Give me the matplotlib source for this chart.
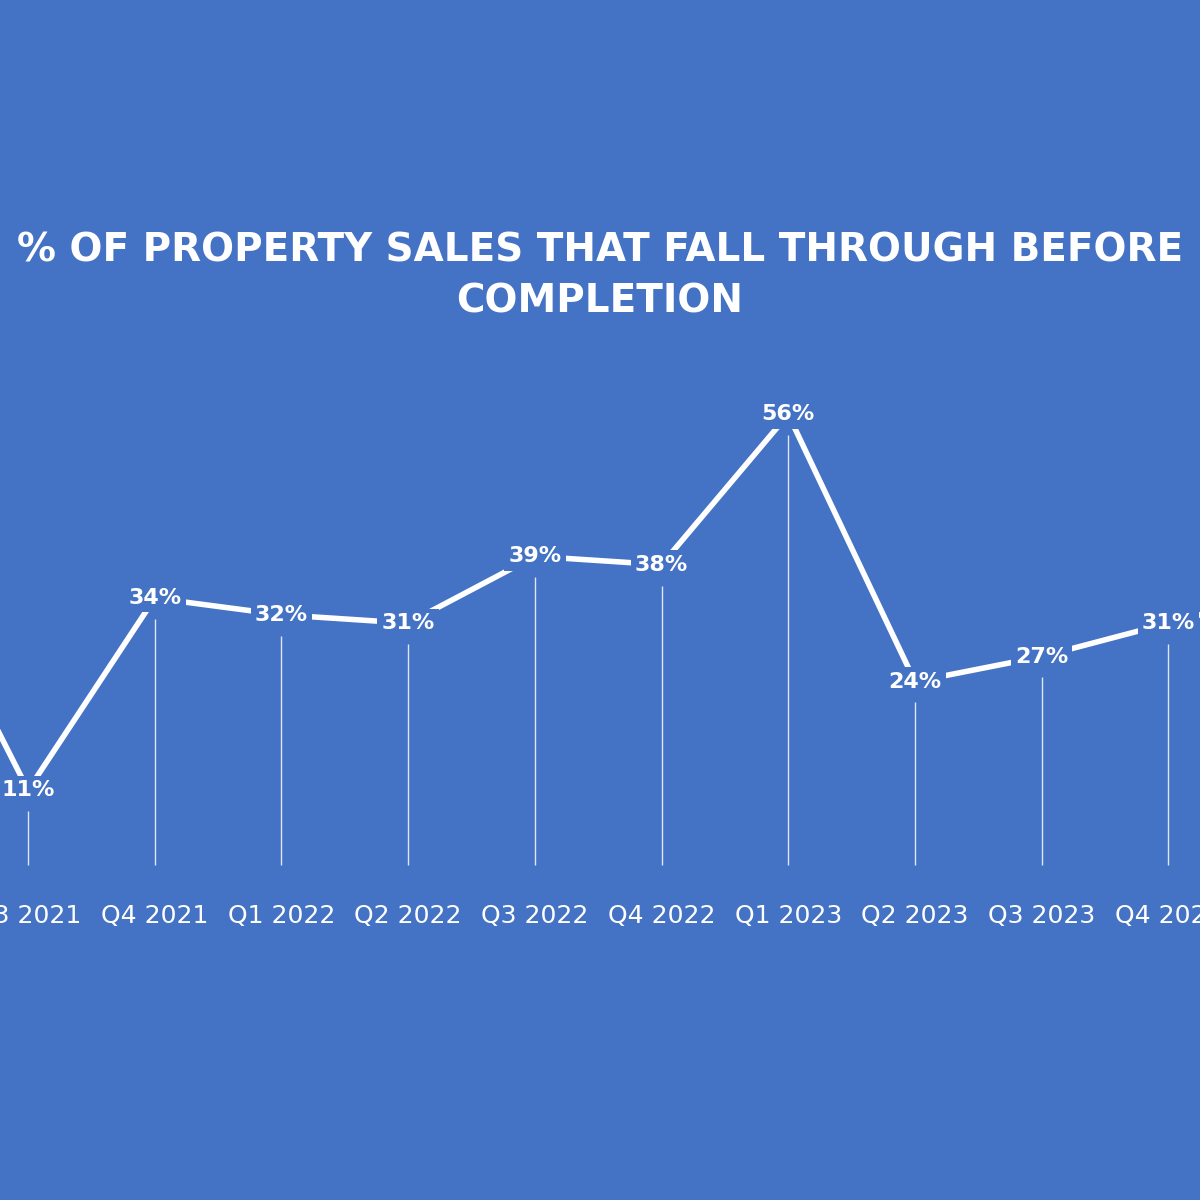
import matplotlib.pyplot as plt

quarters = ["Q2 2021", "Q3 2021", "Q4 2021", "Q1 2022", "Q2 2022", "Q3 2022",
            "Q4 2022", "Q1 2023", "Q2 2023", "Q3 2023", "Q4 2023", "Q1 2024"]
fall_through = [41, 11, 34, 32, 31, 39, 38, 56, 24, 27, 31, 35]

bg = "#4472C4"
fig = plt.figure(figsize=(12, 12), dpi=100, facecolor=bg)
ax = fig.add_axes([-0.135, 0.265, 1.267, 0.4175], facecolor=bg)

x = list(range(len(quarters)))
ax.plot(x, fall_through, color="white", lw=4, zorder=3)
ax.vlines(x, 2, [v - 2.5 for v in fall_through], color="#dfe6f5", lw=1, zorder=1)
for xi, v in zip(x, fall_through):
    ax.text(xi, v, f"{v}%", ha="center", va="center", color="white",
            fontsize=16, fontweight="bold", zorder=4,
            bbox=dict(facecolor=bg, edgecolor="none", pad=3))

ax.set_xlim(-0.5, 11.5)
ax.set_ylim(0, 60)
ax.set_xticks(x)
ax.set_xticklabels(quarters, color="white", fontsize=18)
ax.tick_params(axis="x", length=0, pad=16)
ax.set_yticks([])
for s in ax.spines.values():
    s.set_visible(False)

fig.text(0.5, 0.77, "% OF PROPERTY SALES THAT FALL THROUGH BEFORE\nCOMPLETION",
         ha="center", va="center", color="white", fontsize=28,
         fontweight="bold", linespacing=1.45)

fig.savefig("out.png", facecolor=bg)
